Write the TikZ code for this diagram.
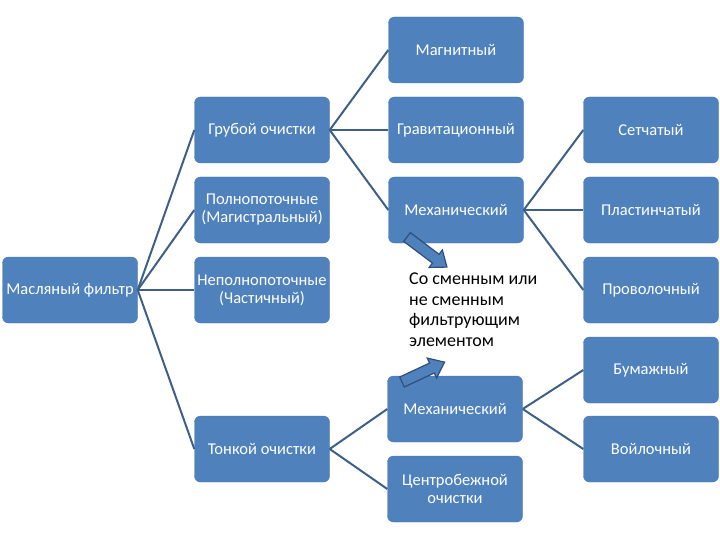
\documentclass[tikz,border=0pt]{standalone}
\usepackage{fontspec}
\setmainfont{Carlito}
\definecolor{boxblue}{HTML}{4F81BD}
\definecolor{boxedge}{HTML}{4A78B0}
\definecolor{linkcol}{HTML}{3F5F88}
\definecolor{arrowedge}{HTML}{2F4F7A}
\tikzset{
  box/.style={draw=boxedge, fill=boxblue, rounded corners=6pt, minimum width=135pt, minimum height=66pt,
    text=white, font=\fontsize{16.5}{18}\selectfont, align=center, inner sep=2pt},
  link/.style={draw=linkcol, line width=2pt},
  barrow/.style={draw=arrowedge, fill=boxblue, line width=1.2pt, line join=miter}
}
\begin{document}
\begin{tikzpicture}[x=1pt,y=-1pt]
\useasboundingbox (0,0) rectangle (720,540);
\node[box] (oil) at (70,290) {Масляный фильтр};
\node[box] (rough) at (262,130) {Грубой очистки};
\node[box] (full) at (262,210) {Полнопоточные\\(Магистральный)};
\node[box] (part) at (262,290) {Неполнопоточные\\(Частичный)};
\node[box] (fine) at (262,449) {Тонкой очистки};
\node[box] (magn) at (456,50) {Магнитный};
\node[box] (grav) at (456,130) {Гравитационный};
\node[box] (mech1) at (456,210) {Механический};
\node[box] (mesh) at (651,130) {Сетчатый};
\node[box] (plate) at (651,210) {Пластинчатый};
\node[box] (wire) at (651,290) {Проволочный};
\node[box] (paper) at (651,370) {Бумажный};
\node[box] (felt) at (651,449) {Войлочный};
\node[box] (mech2) at (455,409) {Механический};
\node[box] (centr) at (455,489) {Центробежной\\очистки};
\node[anchor=north west, align=left, font=\fontsize{18}{20.5}\selectfont, inner sep=0pt] (note) at (409,273)
  {Со сменным или\\не сменным\\фильтрующим\\элементом};
\draw[link] (oil.east) -- (rough.west);
\draw[link] (oil.east) -- (full.west);
\draw[link] (oil.east) -- (part.west);
\draw[link] (oil.east) -- (fine.west);
\draw[link] (rough.east) -- (magn.west);
\draw[link] (rough.east) -- (grav.west);
\draw[link] (rough.east) -- (mech1.west);
\draw[link] (mech1.east) -- (mesh.west);
\draw[link] (mech1.east) -- (plate.west);
\draw[link] (mech1.east) -- (wire.west);
\draw[link] (fine.east) -- (mech2.west);
\draw[link] (fine.east) -- (centr.west);
\draw[link] (mech2.east) -- (paper.west);
\draw[link] (mech2.east) -- (felt.west);
\begin{scope}[shift={(407,237)}, rotate=-37]
  \draw[barrow] (0,-5.5) -- (36,-5.5) -- (36,-11) -- (50,0) -- (36,11) -- (36,5.5) -- (0,5.5) -- cycle;
\end{scope}
\begin{scope}[shift={(402,382)}, rotate=25]
  \draw[barrow] (0,-5.5) -- (33,-5.5) -- (33,-11) -- (47,0) -- (33,11) -- (33,5.5) -- (0,5.5) -- cycle;
\end{scope}
\end{tikzpicture}
\end{document}
